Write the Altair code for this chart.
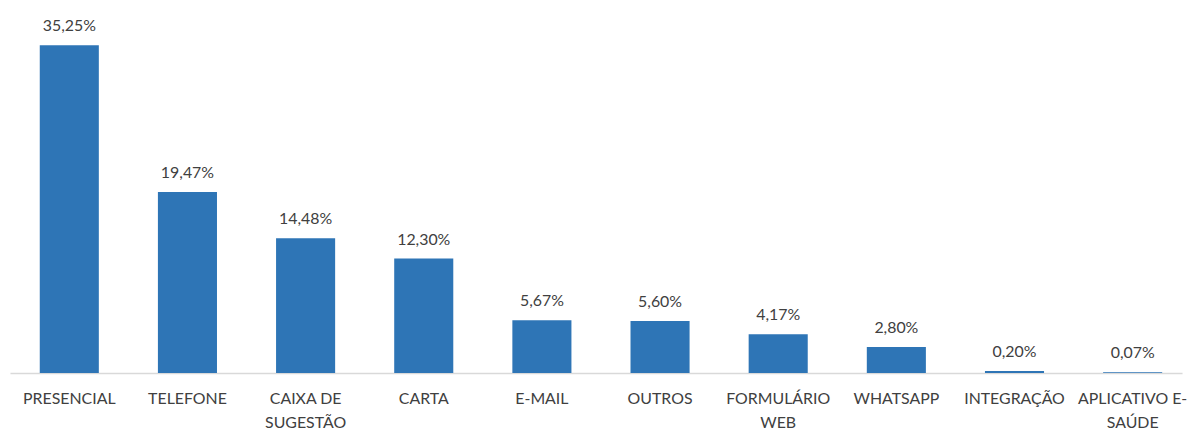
import altair as alt
import pandas as pd

categories = ["PRESENCIAL", "TELEFONE", "CAIXA DE|SUGESTÃO", "CARTA", "E-MAIL",
              "OUTROS", "FORMULÁRIO|WEB", "WHATSAPP", "INTEGRAÇÃO", "APLICATIVO E-|SAÚDE"]
values = [35.25, 19.47, 14.48, 12.30, 5.67, 5.60, 4.17, 2.80, 0.20, 0.07]
labels = [f"{v:.2f}".replace(".", ",") + "%" for v in values]

df = pd.DataFrame({"cat": categories, "val": values, "lbl": labels})

FONT = "Lato"
TXT = "#404040"

x = alt.X("cat:N", sort=categories,
          scale=alt.Scale(paddingInner=0.5, paddingOuter=0.21, align=0.6),
          axis=alt.Axis(title=None, labelAngle=0, ticks=False, domainColor="#D9D9D9",
                        domainWidth=1.5, labelFont=FONT, labelFontSize=16,
                        labelColor=TXT, labelPadding=18, labelLineHeight=24,
                        labelExpr="split(datum.label, '|')", labelLimit=200))
y = alt.Y("val:Q", scale=alt.Scale(domain=[0, 39.1], nice=False), axis=None)

bars = alt.Chart(df).mark_bar(color="#2E75B6").encode(x=x, y=y)
text = alt.Chart(df).mark_text(dy=-14, baseline="alphabetic", font=FONT, fontSize=16,
                               color=TXT).encode(x=x, y=y, text="lbl:N")

chart = (bars + text).properties(
    width=1180, height=366,
    padding={"left": 2, "top": 0, "right": 0, "bottom": 0},
    autosize=alt.AutoSizeParams(type="pad"),
).configure_view(stroke=None)

chart.save("out.html", embed_options={"renderer": "svg", "actions": False})
